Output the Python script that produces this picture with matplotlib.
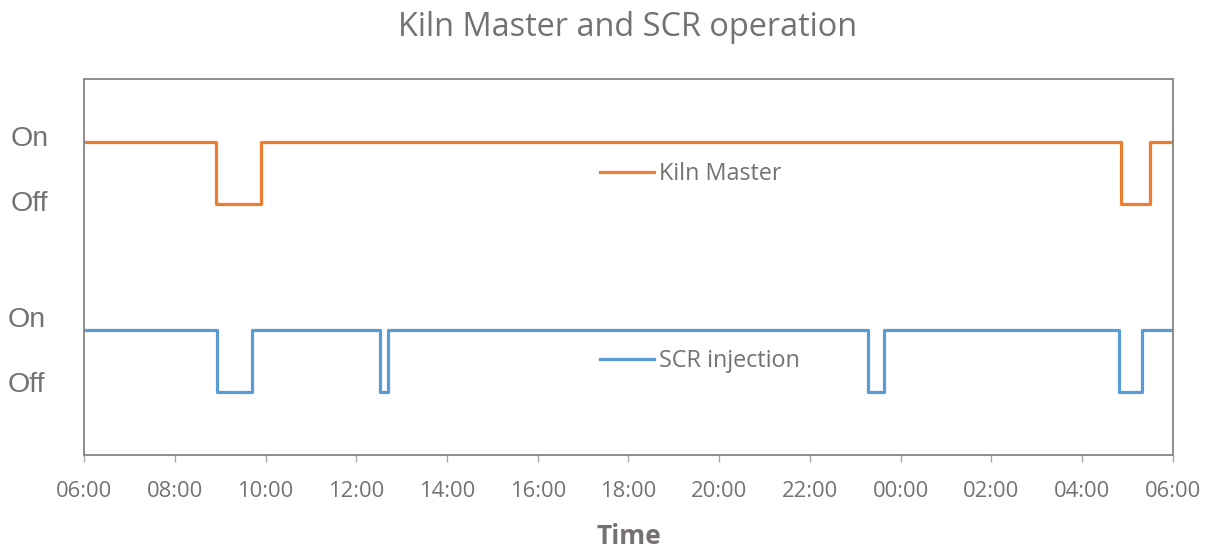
import pandas as pd
import matplotlib.pyplot as plt
import matplotlib.dates as mdates
from matplotlib.lines import Line2D

# switch times (state holds until next time), 1 = On, 0 = Off
kiln_times = ["2020-01-01 06:00", "2020-01-01 08:55", "2020-01-01 09:54",
              "2020-01-02 04:51", "2020-01-02 05:30", "2020-01-02 06:00"]
kiln_state = [1, 0, 1, 0, 1, 1]

scr_times = ["2020-01-01 06:00", "2020-01-01 08:56", "2020-01-01 09:42",
             "2020-01-01 12:32", "2020-01-01 12:42", "2020-01-01 23:17",
             "2020-01-01 23:38", "2020-01-02 04:49", "2020-01-02 05:19",
             "2020-01-02 06:00"]
scr_state = [1, 0, 1, 0, 1, 0, 1, 0, 1, 1]

state_labels = ["On", "Off", "On", "Off"]

grey = "#767171"
orange = "#ED7D31"
blue = "#5B9BD5"
plt.rcParams["font.family"] = ["Open Sans", "DejaVu Sans"]

fig = plt.figure(figsize=(12.14, 5.48), dpi=100)
ax = fig.add_axes([0.0692, 0.1697, 0.8970, 0.6861])

kt = pd.to_datetime(kiln_times)
st = pd.to_datetime(scr_times)
ax.step(kt, [s + 3 for s in kiln_state], where="post", color=orange, lw=2.3)
ax.step(st, scr_state, where="post", color=blue, lw=2.3)

ax.set_xlim(kt[0], kt[-1])
ax.set_ylim(-1, 5)
ax.xaxis.set_major_locator(mdates.HourLocator(byhour=range(0, 24, 2)))
ax.xaxis.set_major_formatter(mdates.DateFormatter("%H:%M"))
ax.tick_params(axis="x", direction="out", length=5, width=1, color="#a6a6a6",
               labelsize=15.8, labelcolor=grey, pad=13.5)
ax.set_yticks([])
for sp in ax.spines.values():
    sp.set_color("#8c8c8c")
    sp.set_linewidth(1.4)

# On/Off labels left of the axis
label_y = [4.05, 3.0, 1.16, 0.11]
label_x = [-0.067, -0.067, -0.070, -0.070]
for lx, ly, txt in zip(label_x, label_y, state_labels):
    ax.text(lx, ly, txt, transform=ax.get_yaxis_transform(), ha="left", va="center",
            fontsize=20.5, color=grey, family=["Liberation Sans", "DejaVu Sans"])

fig.text(0.517, 0.949, "Kiln Master and SCR operation", ha="center", va="center",
         fontsize=23.4, color=grey)

ax.set_xlabel("Time", fontsize=19, fontweight="bold", color=grey, labelpad=15)

leg1 = ax.legend(handles=[Line2D([], [], color=orange, lw=2.3)], labels=["Kiln Master"],
                 loc="center left", bbox_to_anchor=(0.4738, 0.747), frameon=False,
                 borderpad=0, borderaxespad=0, handlelength=2.3, handletextpad=0.22,
                 fontsize=16.8, labelcolor=grey)
ax.add_artist(leg1)
ax.legend(handles=[Line2D([], [], color=blue, lw=2.3)], labels=["SCR injection"],
          loc="center left", bbox_to_anchor=(0.4738, 0.25), frameon=False,
          borderpad=0, borderaxespad=0, handlelength=2.3, handletextpad=0.22,
          fontsize=16.8, labelcolor=grey)

fig.savefig("out.png", dpi=100)
